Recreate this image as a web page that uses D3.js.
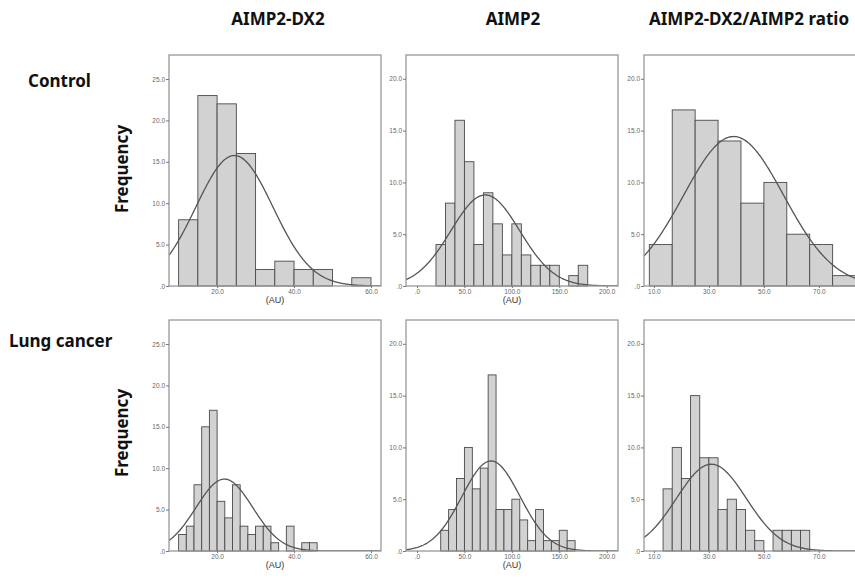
<!DOCTYPE html>
<html>
<head>
<meta charset="utf-8">
<script src="https://cdn.jsdelivr.net/npm/d3@7"></script>
<style>
    body { margin: 0; background: #fff; }
    svg { display: block; font-family: "Noto Sans", sans-serif; }
    .hdr { font-weight: bold; font-size: 17px; fill: #111; }
    .tick text { font-family: "Liberation Sans", Arial, sans-serif; font-size: 6.5px; fill: #666; }
    .tick line { stroke: #777; }
    .au { font-family: "Liberation Sans", Arial, sans-serif; font-size: 9px; fill: #333; }
</style>
</head>
<body>
<div id="chart"></div>
<script>
// column titles and row groups
var columns = ["AIMP2-DX2", "AIMP2", "AIMP2-DX2/AIMP2 ratio"];
var groups = ["Control", "Lung cancer"];

// histogram bins per panel [row][col]
var binStart = [[10, 20, 25/3], [10, 25, 40/3]];
var binWidth = [[5, 10, 25/3], [2, 25/3, 10/3]];

var counts = [
    [
        [8, 23, 22, 16, 2, 3, 2, 2, 0, 1],
        [4, 8, 16, 12, 4, 9, 6, 3, 6, 3, 2, 2, 2, 0, 1, 2],
        [4, 17, 16, 14, 8, 10, 5, 4, 1]
    ],
    [
        [2, 3, 8, 15, 17, 6, 4, 8, 3, 2, 3, 3, 1, 0, 3, 0, 1, 1],
        [2, 4, 7, 10, 6, 8, 17, 4, 4, 5, 3, 1, 4, 1, 1, 2, 1],
        [6, 10, 7, 15, 9, 9, 4, 5, 4, 2, 1, 0, 2, 2, 2, 2]
    ]
];

// fitted normal curve parameters
var curveMean = [[24.5, 72, 39], [21.9, 78, 30.9]];
var curveSD = [[10, 36.3, 18.2], [7.35, 30.6, 12.7]];

// tick labels
var xTicks = [[20, 40, 60], [0, 50, 100, 150, 200], [10, 30, 50, 70]];
var yTicks = [[0, 5, 10, 15, 20, 25], [0, 5, 10, 15, 20], [0, 5, 10, 15, 20]];

var width = 855, height = 578;

// layout of the panels
var colX = [[169, 381], [406, 618], [644, 856]];
var rowY = [[55, 286], [320, 551]];
var xDom = [[7.5, 62.6], [-11.6, 211.9], [6.4, 83.5]];
var yMax = [27.9, 22.3, 22.3];

var svg = d3.select("#chart").append("svg")
    .attr("width", width)
    .attr("height", height);

var fmt = function(d) { return d === 0 ? ".0" : d3.format(".1f")(d); };

// column titles
svg.selectAll("text.col")
    .data(columns)
    .enter().append("text")
    .attr("class", "hdr col")
    .attr("x", function(_, i) { return [278, 513, 749][i]; })
    .attr("y", 25)
    .attr("text-anchor", "middle")
    .text(function(d) { return d; });

groups.forEach(function(g, r) {
    // row label
    svg.append("text")
        .attr("class", "hdr")
        .attr("x", r === 0 ? 28 : 9)
        .attr("y", r === 0 ? 87 : 347)
        .text(g);

    svg.append("text")
        .attr("class", "hdr")
        .attr("transform", "translate(128," + (r === 0 ? 169 : 433) + ") rotate(-90)")
        .attr("text-anchor", "middle")
        .text("Frequency");

    columns.forEach(function(_, c) {
        var x0 = colX[c][0], x1 = colX[c][1];
        var y0 = rowY[r][0], y1 = rowY[r][1];

        var x = d3.scaleLinear().domain(xDom[c]).range([x0, x1]);
        var y = d3.scaleLinear().domain([0, yMax[c]]).range([y1, y0]);

        var g = svg.append("g");
        var clipId = "clip" + r + c;
        g.append("clipPath").attr("id", clipId)
            .append("rect")
            .attr("x", x0).attr("y", y0)
            .attr("width", x1 - x0).attr("height", y1 - y0);

        var data = counts[r][c];
        var start = binStart[r][c], w = binWidth[r][c];
        var n = d3.sum(data);

        // bars
        g.selectAll("rect.bar")
            .data(data.map(function(v, i) { return { lo: start + i * w, hi: start + (i + 1) * w, v: v }; })
                      .filter(function(d) { return d.v > 0; }))
            .enter().append("rect")
            .attr("class", "bar")
            .attr("x", function(d) { return x(d.lo); })
            .attr("width", function(d) { return x(d.hi) - x(d.lo); })
            .attr("y", function(d) { return y(d.v); })
            .attr("height", function(d) { return y(0) - y(d.v); })
            .style("fill", "#d2d2d2")
            .style("stroke", "#4a4a4a")
            .style("stroke-width", 0.9);

        // normal curve
        var m = curveMean[r][c], s = curveSD[r][c];
        var pts = d3.range(0, 201).map(function(k) {
            var xv = xDom[c][0] + (xDom[c][1] - xDom[c][0]) * k / 200;
            var yv = n * w / (s * Math.sqrt(2 * Math.PI)) * Math.exp(-(xv - m) * (xv - m) / (2 * s * s));
            return [xv, yv];
        });
        g.append("path")
            .attr("clip-path", "url(#" + clipId + ")")
            .attr("d", d3.line().x(function(d) { return x(d[0]); }).y(function(d) { return y(d[1]); })(pts))
            .style("fill", "none")
            .style("stroke", "#555")
            .style("stroke-width", 1.3);

        // frame
        g.append("rect")
            .attr("x", x0).attr("y", y0)
            .attr("width", x1 - x0).attr("height", y1 - y0)
            .style("fill", "none")
            .style("stroke", "#999")
            .style("stroke-width", 1.3);

        // axes
        var ya = g.append("g")
            .attr("transform", "translate(" + x0 + ",0)")
            .call(d3.axisLeft(y).tickValues(yTicks[c]).tickSize(3).tickPadding(1).tickFormat(fmt));
        ya.select(".domain").remove();

        var xa = g.append("g")
            .attr("transform", "translate(0," + y1 + ")")
            .call(d3.axisBottom(x).tickValues(xTicks[c]).tickSize(2).tickPadding(1).tickFormat(fmt));
        xa.select(".domain").remove();

        if (c < 2) {
            g.append("text")
                .attr("class", "au")
                .attr("x", (x0 + x1) / 2)
                .attr("y", y1 + 17)
                .attr("text-anchor", "middle")
                .text("(AU)");
        }
    });
});
</script>
</body>
</html>
